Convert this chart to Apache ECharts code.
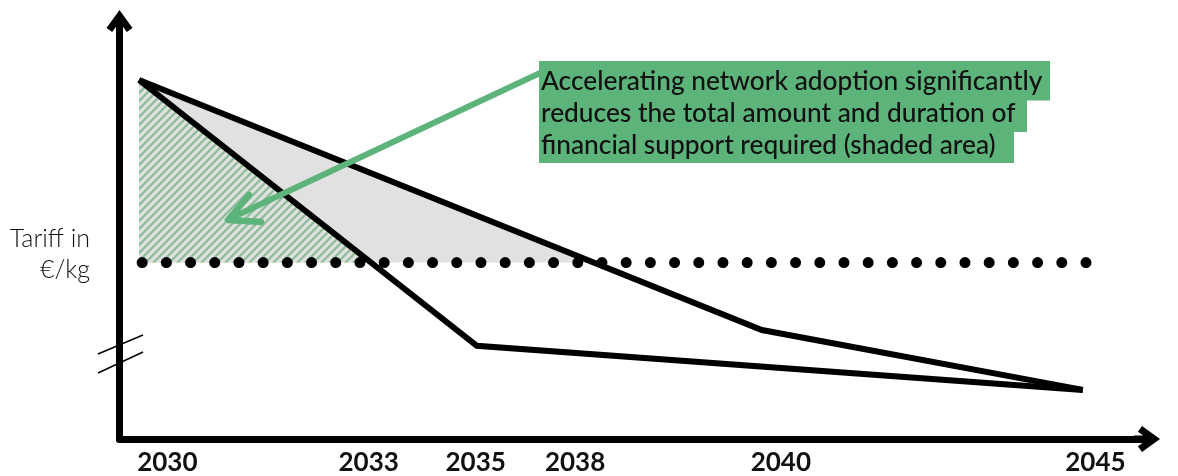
<!DOCTYPE html>
<html>
<head>
<meta charset="utf-8">
<script src="https://cdn.jsdelivr.net/npm/echarts@6/dist/echarts.min.js"></script>
<style>
  html, body { margin: 0; padding: 0; background: #fff; }
  #chart { width: 1178px; height: 476px; }
</style>
</head>
<body>
<div id="chart"></div>
<script>
// ---- Data (schematic, years on x, tariff index on y) ----
const fastAdoption = [[2030, 86.3], [2035.37, 22.4], [2045, 11.8]];   // accelerated network adoption
const slowAdoption = [[2030, 86.3], [2039.9, 26.2], [2045, 11.8]];    // slower adoption
const breakEvenTariff = 42.4;                                         // dotted level
const breakEvenSpan = [2030.05, 2045.1];
const tickLabels = ['2030', '2033', '2035', '2038', '2040', '2045'];
const tickYears = [2030.45, 2033.65, 2035.35, 2036.93, 2040.2, 2045.2];
const yAxisTitle = 'Tariff in\n€/kg';
const noteLines = [
  'Accelerating network adoption significantly',
  'reduces the total amount and duration of',
  'financial support required (shaded area)'
];

const GREEN = '#5db47b';

// polygon of the area between a line and the threshold, where line is above it
function areaAbove(line, thr) {
  const pts = [];
  for (let i = 0; i < line.length; i++) {
    const p = line[i];
    if (p[1] >= thr) pts.push(p);
    if (i < line.length - 1) {
      const q = line[i + 1];
      if ((p[1] - thr) * (q[1] - thr) < 0) {
        const t = (thr - p[1]) / (q[1] - p[1]);
        pts.push([p[0] + t * (q[0] - p[0]), thr]);
      }
    }
  }
  const lastX = pts[pts.length - 1][0];
  pts.push([lastX, thr]);
  pts.push([pts[0][0], thr]);
  return pts;
}
const slowArea = areaAbove(slowAdoption, breakEvenTariff);
const fastArea = areaAbove(fastAdoption, breakEvenTariff);

// hatch pattern
const hatch = document.createElement('canvas');
hatch.width = 8; hatch.height = 8;
(function () {
  const c = hatch.getContext('2d');
  c.fillStyle = '#e1e1e1';
  c.fillRect(0, 0, 8, 8);
  c.strokeStyle = '#8fbe9b';
  c.lineWidth = 2.3;
  [[-8, 8, 8, -8], [0, 8, 8, 0], [0, 16, 16, 0]].forEach(function (s) {
    c.beginPath(); c.moveTo(s[0], s[1]); c.lineTo(s[2], s[3]); c.stroke();
  });
})();

function polySeries(points, fill, z) {
  return {
    type: 'custom',
    z: z,
    silent: true,
    data: [[points[0][0], points[0][1]]],
    renderItem: function (params, api) {
      return {
        type: 'polygon',
        shape: { points: points.map(function (p) { return api.coord(p); }) },
        style: { fill: fill, stroke: null }
      };
    }
  };
}

const arrowPath = 'path://M14,0 L27,18 L21.3,22.1 L17.5,16.8 L17.5,26 L10.5,26 L10.5,16.8 L6.7,22.1 L1,18 Z';
const FONT = 'Lato, "Open Sans", sans-serif';

const chart = echarts.init(document.getElementById('chart'), null, { renderer: 'canvas' });

const option = {
  animation: false,
  backgroundColor: '#ffffff',
  grid: { left: 119.5, right: 31, top: 23, bottom: 37, containLabel: false },
  xAxis: {
    type: 'value',
    min: 2029.69,
    max: 2046.02,
    splitLine: { show: false },
    axisTick: { show: false },
    axisLine: {
      show: true,
      onZero: false,
      symbol: ['none', arrowPath],
      symbolSize: [26, 26],
      lineStyle: { color: '#000', width: 7, cap: 'round' }
    },
    axisLabel: {
      customValues: tickYears,
      formatter: function (v) {
        let best = 0;
        tickYears.forEach(function (t, i) { if (Math.abs(t - v) < Math.abs(tickYears[best] - v)) best = i; });
        return tickLabels[best];
      },
      margin: 11,
      color: '#111',
      fontSize: 26,
      fontWeight: 'bold',
      fontFamily: FONT
    }
  },
  yAxis: {
    type: 'value',
    min: 0,
    max: 100,
    splitLine: { show: false },
    axisTick: { show: false },
    axisLabel: { show: false },
    axisLine: {
      show: true,
      onZero: false,
      symbol: ['none', arrowPath],
      symbolSize: [26, 26],
      lineStyle: { color: '#000', width: 7, cap: 'round' }
    }
  },
  series: [
    polySeries(slowArea, '#e1e1e1', 1),
    polySeries(fastArea, { image: hatch, repeat: 'repeat' }, 2),
    {
      type: 'line',
      z: 3,
      silent: true,
      showSymbol: false,
      symbol: 'none',
      data: [[breakEvenSpan[0], breakEvenTariff], [breakEvenSpan[1], breakEvenTariff]],
      lineStyle: { color: '#000', width: 11, type: [0.001, 24.2], cap: 'round' }
    },
    {
      type: 'line',
      z: 4,
      silent: true,
      symbol: 'none',
      data: fastAdoption,
      lineStyle: { color: '#000', width: 6, cap: 'butt', join: 'miter' }
    },
    {
      type: 'line',
      z: 4,
      silent: true,
      symbol: 'none',
      data: slowAdoption,
      lineStyle: { color: '#000', width: 6, cap: 'butt', join: 'miter' }
    }
  ],
  graphic: [
    // y-axis title
    {
      type: 'text', x: 90, y: 254, z: 10,
      style: {
        text: yAxisTitle, align: 'right', verticalAlign: 'middle',
        font: '300 25px ' + FONT, fill: '#111', lineHeight: 31
      }
    },
    // axis break marks
    { type: 'line', z: 10, shape: { x1: 98, y1: 354, x2: 143, y2: 335 }, style: { stroke: '#000', lineWidth: 1.5 } },
    { type: 'line', z: 10, shape: { x1: 98, y1: 373, x2: 143, y2: 352 }, style: { stroke: '#000', lineWidth: 1.5 } },
    // annotation arrow
    { type: 'polyline', z: 20, shape: { points: [[540, 73], [229, 219]] }, style: { stroke: GREEN, lineWidth: 6, lineCap: 'round', fill: null } },
    { type: 'polyline', z: 20, shape: { points: [[249, 195], [228, 220], [261, 222]] }, style: { stroke: GREEN, lineWidth: 6.5, lineCap: 'round', lineJoin: 'round', fill: null } },
    // annotation boxes
    { type: 'rect', z: 21, shape: { x: 539, y: 61, width: 511, height: 39.5 }, style: { fill: GREEN } },
    { type: 'rect', z: 21, shape: { x: 539, y: 100, width: 488, height: 32 }, style: { fill: GREEN } },
    { type: 'rect', z: 21, shape: { x: 539, y: 131.5, width: 475, height: 31.5 }, style: { fill: GREEN } },
    { type: 'text', z: 22, x: 541, y: 82, style: { text: noteLines[0], verticalAlign: 'middle', font: '500 26.3px ' + FONT, fill: '#111' } },
    { type: 'text', z: 22, x: 541, y: 114, style: { text: noteLines[1], verticalAlign: 'middle', font: '500 26.3px ' + FONT, fill: '#111' } },
    { type: 'text', z: 22, x: 541, y: 146, style: { text: noteLines[2], verticalAlign: 'middle', font: '500 26.3px ' + FONT, fill: '#111' } }
  ]
};
chart.setOption(option);
</script>
</body>
</html>
